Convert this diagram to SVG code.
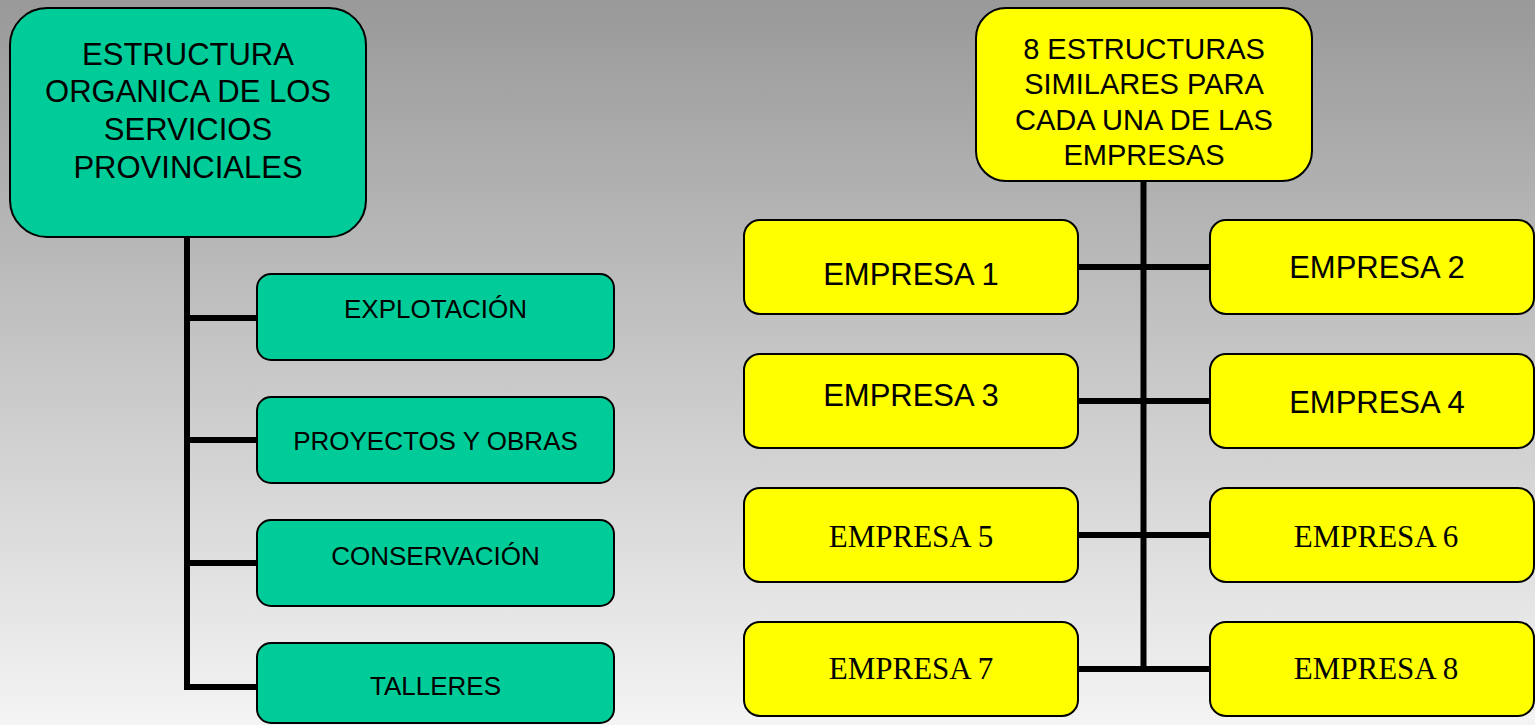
<svg xmlns="http://www.w3.org/2000/svg" width="1535" height="725" viewBox="0 0 1535 725">
<defs>
<linearGradient id="bg" x1="0" y1="0" x2="0" y2="1">
<stop offset="0" stop-color="#999999"/>
<stop offset="1" stop-color="#f4f4f4"/>
</linearGradient>
</defs>
<style>
.green{fill:#00CC99;stroke:#000;stroke-width:2}
.yellow{fill:#FFFF00;stroke:#000;stroke-width:2}
.sans{font-family:"Liberation Sans",Arial,sans-serif;fill:#000;text-anchor:middle}
.serif{font-family:"Liberation Serif","Times New Roman",serif;fill:#000;text-anchor:middle}
.conn{fill:none;stroke:#000;stroke-width:6;stroke-linejoin:miter;stroke-linecap:butt}
</style>
<rect x="0" y="0" width="1535" height="725" fill="url(#bg)"/>
<g id="connectors">
<path class="conn" d="M187 237 V687 H257"/>
<path class="conn" d="M187 318 H257 M187 440 H257 M187 563 H257"/>
<path class="conn" d="M1143.5 181 V669"/>
<path class="conn" d="M1078 267 H1210 M1078 401 H1210 M1078 535 H1210 M1078 669 H1210"/>
</g>
<g id="root-left">
<rect class="green" x="10" y="8" width="356" height="229" rx="37" ry="37"/>
<text class="sans" font-size="31" x="188" y="65">ESTRUCTURA</text>
<text class="sans" font-size="31" x="188" y="102">ORGANICA DE LOS</text>
<text class="sans" font-size="31" x="188" y="140">SERVICIOS</text>
<text class="sans" font-size="31" x="188" y="178">PROVINCIALES</text>
</g>
<g id="explotacion">
<rect class="green" x="257" y="274" width="357" height="86" rx="14" ry="14"/>
<text class="sans" font-size="26" x="435.5" y="318">EXPLOTACIÓN</text>
</g>
<g id="proyectos">
<rect class="green" x="257" y="397" width="357" height="86" rx="14" ry="14"/>
<text class="sans" font-size="26" x="435.5" y="450">PROYECTOS Y OBRAS</text>
</g>
<g id="conservacion">
<rect class="green" x="257" y="520" width="357" height="86" rx="14" ry="14"/>
<text class="sans" font-size="26" x="435.5" y="565">CONSERVACIÓN</text>
</g>
<g id="talleres">
<rect class="green" x="257" y="643" width="357" height="80" rx="14" ry="14"/>
<text class="sans" font-size="26" x="435.5" y="695">TALLERES</text>
</g>
<g id="root-right">
<rect class="yellow" x="976" y="8" width="336" height="173" rx="30" ry="30"/>
<text class="sans" font-size="29" x="1144" y="59">8 ESTRUCTURAS</text>
<text class="sans" font-size="29" x="1144" y="94">SIMILARES PARA</text>
<text class="sans" font-size="29" x="1144" y="130">CADA UNA DE LAS</text>
<text class="sans" font-size="29" x="1144" y="165">EMPRESAS</text>
</g>
<g id="empresa1">
<rect class="yellow" x="744" y="220" width="334" height="94" rx="16" ry="16"/>
<text class="sans" font-size="31" x="911" y="285">EMPRESA 1</text>
</g>
<g id="empresa2">
<rect class="yellow" x="1210" y="220" width="324" height="94" rx="16" ry="16"/>
<text class="sans" font-size="31" x="1377" y="278">EMPRESA 2</text>
</g>
<g id="empresa3">
<rect class="yellow" x="744" y="354" width="334" height="94" rx="16" ry="16"/>
<text class="sans" font-size="31" x="911" y="406">EMPRESA 3</text>
</g>
<g id="empresa4">
<rect class="yellow" x="1210" y="354" width="324" height="94" rx="16" ry="16"/>
<text class="sans" font-size="31" x="1377" y="413">EMPRESA 4</text>
</g>
<g id="empresa5">
<rect class="yellow" x="744" y="488" width="334" height="94" rx="16" ry="16"/>
<text class="serif" font-size="31" x="911" y="547">EMPRESA 5</text>
</g>
<g id="empresa6">
<rect class="yellow" x="1210" y="488" width="324" height="94" rx="16" ry="16"/>
<text class="serif" font-size="31" x="1376" y="547">EMPRESA 6</text>
</g>
<g id="empresa7">
<rect class="yellow" x="744" y="622" width="334" height="94" rx="16" ry="16"/>
<text class="serif" font-size="31" x="911" y="679">EMPRESA 7</text>
</g>
<g id="empresa8">
<rect class="yellow" x="1210" y="622" width="324" height="94" rx="16" ry="16"/>
<text class="serif" font-size="31" x="1376" y="679">EMPRESA 8</text>
</g>
</svg>
